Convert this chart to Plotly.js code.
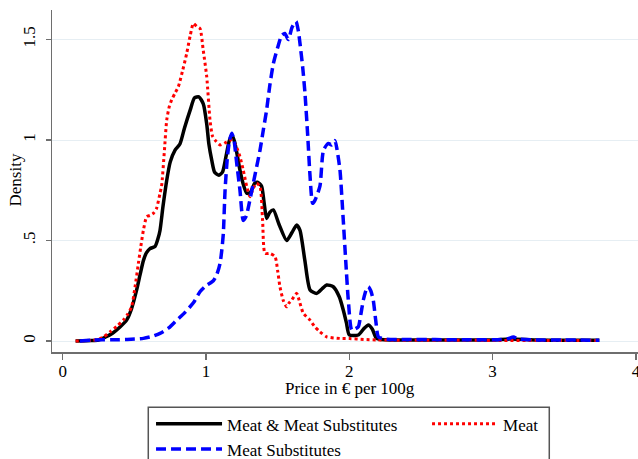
<!DOCTYPE html>
<html>
<head>
<meta charset="utf-8">
<script src="https://cdn.plot.ly/plotly-3.0.1.min.js"></script>
<style>html,body{margin:0;padding:0;background:#fff;}#chart{width:638px;height:459px;}</style>
</head>
<body>
<div id="chart"></div>
<script>
// Meat & Meat Substitutes (black solid)
const allX = [0.09,0.2,0.25,0.3,0.35,0.4,0.446,0.48,0.516,0.54,0.563,0.585,0.609,0.644,0.665,0.679,0.70,0.726,0.75,0.784,0.818,0.85,0.89,0.92,0.95,0.981,1.005,1.02,1.04,1.06,1.09,1.115,1.14,1.16,1.18,1.20,1.237,1.26,1.284,1.31,1.34,1.36,1.388,1.405,1.423,1.445,1.47,1.51,1.563,1.60,1.633,1.656,1.69,1.726,1.772,1.81,1.842,1.888,1.93,1.958,1.98,2.0,2.063,2.10,2.133,2.16,2.19,2.25,2.4,2.6,2.8,3.0,3.13,3.3,3.5,3.745];
const allY = [0,0.002,0.005,0.02,0.04,0.07,0.104,0.16,0.254,0.33,0.40,0.44,0.46,0.47,0.51,0.55,0.67,0.80,0.89,0.95,0.98,1.06,1.15,1.21,1.215,1.18,1.08,0.98,0.90,0.84,0.825,0.84,0.92,0.99,1.025,0.99,0.85,0.78,0.735,0.74,0.785,0.79,0.77,0.69,0.61,0.64,0.652,0.58,0.50,0.54,0.577,0.55,0.40,0.254,0.237,0.26,0.279,0.27,0.22,0.154,0.09,0.03,0.03,0.06,0.08,0.06,0.013,0.006,0.005,0.005,0.005,0.005,0.01,0.005,0.004,0.004];
// Meat (red dotted)
const meatX = [0.09,0.2,0.25,0.284,0.33,0.38,0.423,0.455,0.481,0.505,0.528,0.545,0.563,0.586,0.61,0.632,0.655,0.679,0.69,0.71,0.726,0.745,0.761,0.785,0.807,0.835,0.865,0.89,0.912,0.935,0.958,0.98,1.005,1.028,1.045,1.063,1.098,1.144,1.18,1.21,1.237,1.26,1.284,1.307,1.33,1.353,1.377,1.395,1.412,1.447,1.482,1.50,1.516,1.54,1.563,1.58,1.598,1.633,1.655,1.679,1.726,1.76,1.795,1.842,1.935,2.0,2.1,2.2,2.5,3.0,3.5,3.745];
const meatY = [0,0.003,0.008,0.02,0.045,0.075,0.104,0.135,0.17,0.27,0.386,0.47,0.55,0.618,0.625,0.635,0.66,0.735,0.77,0.95,1.10,1.17,1.20,1.235,1.265,1.34,1.43,1.52,1.58,1.565,1.555,1.45,1.315,1.10,1.02,1.0,0.975,0.99,1.0,0.97,0.917,0.85,0.77,0.718,0.76,0.785,0.768,0.60,0.436,0.436,0.42,0.35,0.27,0.20,0.17,0.19,0.204,0.237,0.19,0.138,0.104,0.07,0.046,0.021,0.013,0.012,0.008,0.005,0.004,0.003,0.003,0.003];
// Meat Substitutes (blue dashed)
const subX = [0.12,0.21,0.35,0.45,0.563,0.62,0.679,0.74,0.796,0.85,0.912,0.958,1.0,1.051,1.075,1.098,1.11,1.121,1.133,1.15,1.165,1.18,1.195,1.215,1.237,1.26,1.28,1.30,1.33,1.377,1.40,1.423,1.445,1.47,1.50,1.528,1.55,1.575,1.60,1.628,1.645,1.656,1.675,1.691,1.71,1.726,1.744,1.76,1.795,1.82,1.854,1.877,1.90,1.915,1.935,1.958,1.975,1.993,2.017,2.04,2.063,2.08,2.098,2.12,2.133,2.15,2.167,2.185,2.203,2.25,2.4,2.6,2.8,3.0,3.1,3.145,3.18,3.3,3.5,3.745];
const subY = [0,0.005,0.006,0.008,0.013,0.022,0.038,0.065,0.104,0.14,0.19,0.245,0.275,0.30,0.33,0.386,0.45,0.535,0.75,0.92,1.0,1.033,1.0,0.88,0.75,0.60,0.62,0.68,0.785,0.95,1.05,1.15,1.27,1.38,1.46,1.52,1.53,1.50,1.56,1.59,1.54,1.48,1.36,1.23,1.02,0.82,0.685,0.70,0.77,0.95,0.983,0.975,0.997,0.95,0.85,0.60,0.40,0.204,0.055,0.06,0.071,0.13,0.204,0.26,0.27,0.25,0.204,0.10,0.021,0.01,0.008,0.007,0.006,0.006,0.01,0.02,0.01,0.005,0.005,0.004];

const xTickVals = [0,1,2,3,4];
const xTickText = ['0','1','2','3','4'];
const yTickVals = [0,0.5,1,1.5];
const yTickText = ['0','.5','1','1.5'];
const xTitle = 'Price in € per 100g';
const yTitle = 'Density';

const font = 'Liberation Serif, Times New Roman, serif';

const traces = [
  {x: allX, y: allY, mode:'lines', name:'Meat &amp; Meat Substitutes',
   line:{color:'#000000', width:3.5, shape:'spline', smoothing:0.6}},
  {x: meatX, y: meatY, mode:'lines', name:'Meat',
   line:{color:'#ff0000', width:3, dash:'3px,3px', shape:'spline', smoothing:0.6}},
  {x: subX, y: subY, mode:'lines', name:'Meat Substitutes',
   line:{color:'#0000ff', width:3.5, dash:'10px,5px', shape:'spline', smoothing:0.6}}
];

const layout = {
  width:638, height:459,
  margin:{l:52, r:0, t:10, b:107, autoexpand:false},
  paper_bgcolor:'#ffffff', plot_bgcolor:'#ffffff',
  font:{family:font, size:17, color:'#000'},
  showlegend:true,
  xaxis:{
    range:[-0.0747, 4.0147], tickvals:xTickVals, ticktext:xTickText,
    ticklabeloverflow:'allow', ticklabelstandoff:-3,
    showgrid:false, zeroline:false, showline:true, linecolor:'#6e6e6e', linewidth:1.5,
    ticks:'outside', ticklen:6, tickcolor:'#6e6e6e', tickwidth:1.5,
    tickfont:{family:font, size:17, color:'#000'}
  },
  yaxis:{
    range:[-0.0547, 1.6468], tickvals:yTickVals, ticktext:yTickText, tickangle:-90,
    ticklabelstandoff:4,
    showgrid:true, gridcolor:'#e6eef3', gridwidth:1, zeroline:false,
    showline:true, linecolor:'#6e6e6e', linewidth:1.5,
    ticks:'outside', ticklen:5, tickcolor:'#6e6e6e', tickwidth:1.5,
    tickfont:{family:font, size:17, color:'#000'}
  },
  annotations:[
    {text:xTitle, xref:'paper', yref:'paper', x:0.5085, y:-0.108, xanchor:'center', yanchor:'middle',
     showarrow:false, font:{family:font, size:17, color:'#000'}},
    {text:yTitle, xref:'paper', yref:'paper', x:-0.0623, y:0.503, xanchor:'center', yanchor:'middle',
     textangle:-90, showarrow:false, font:{family:font, size:17, color:'#000'}}
  ],
  legend:{
    orientation:'h', x:0.169, y:-0.1588, xanchor:'left', yanchor:'top',
    bgcolor:'rgba(0,0,0,0)', borderwidth:0, entrywidth:195, entrywidthmode:'pixels',
    itemwidth:66, font:{family:font, size:17, color:'#000'}, tracegroupgap:0
  },
  shapes:[{type:'rect', xref:'paper', yref:'paper', x0:0.1643, x1:0.8486, y0:-0.1617, y1:-0.40,
    line:{color:'#555555', width:1.5}, fillcolor:'rgba(0,0,0,0)'}]
};

Plotly.newPlot('chart', traces, layout, {displayModeBar:false, staticPlot:true});
</script>
</body>
</html>
